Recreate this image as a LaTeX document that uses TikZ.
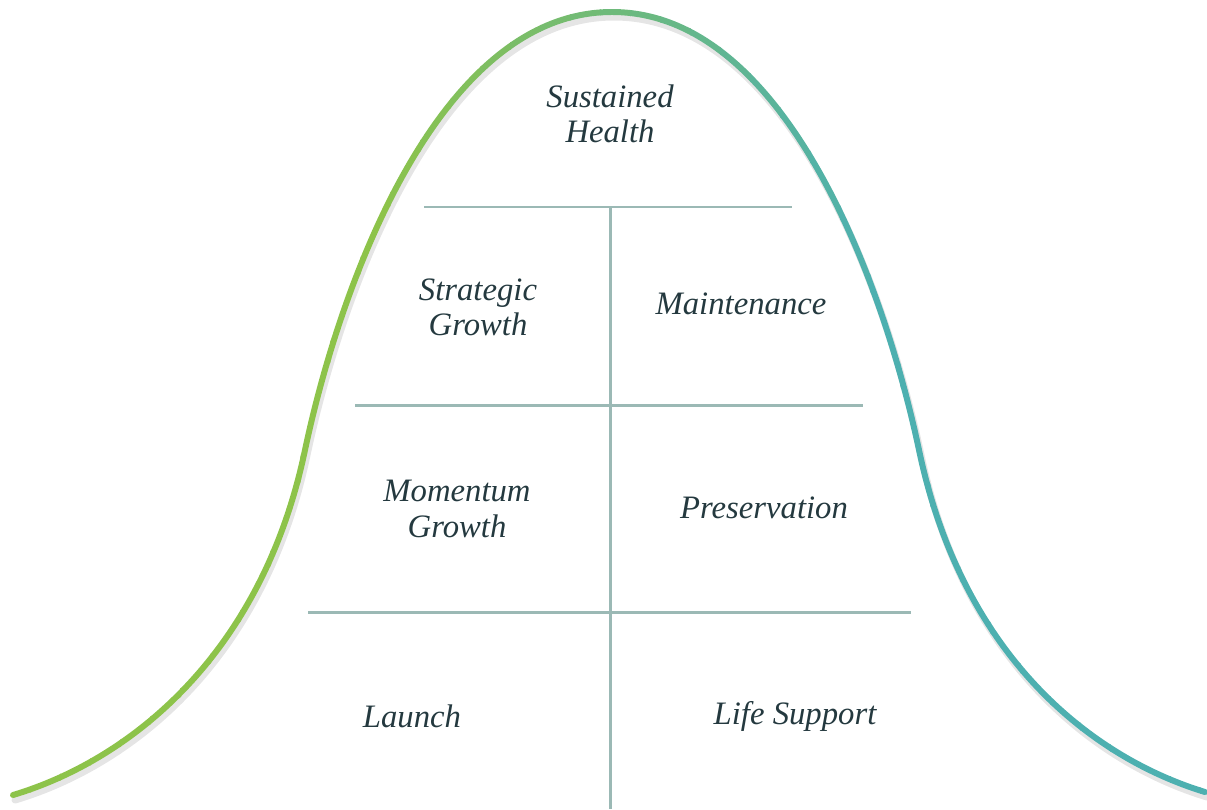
\documentclass[tikz,border=0pt]{standalone}
\usepackage{fontspec}
\setmainfont{Liberation Serif}
\definecolor{leafgreen}{HTML}{8DC34A}
\definecolor{seateal}{HTML}{4DB0B0}
\definecolor{gridline}{HTML}{9BB9B5}
\definecolor{inktext}{HTML}{24393F}
\tikzstyle{phase} = [align=center, text=inktext, font=\fontsize{9.3}{10}\selectfont\itshape, inner sep=0pt]
\tikzstyle{divider} = [draw=gridline, line width=0.85pt]
\tikzstyle{bell} = [insert path={(13,795) .. controls (130,760) and (262,655) .. (305,450) .. controls (341,280) and (440,12) .. (612,12) .. controls (784,12) and (883,280) .. (919,450) .. controls (962,655) and (1090,757) .. (1205,792)}]

\begin{document}
\begin{tikzpicture}[x=0.01cm, y=-0.01cm]
\useasboundingbox (0,0) rectangle (1207,809);

% soft shadow under the curve
\draw[black!10, line width=2pt, line cap=round, shift={(2,5)}, bell];

% bell curve, green into teal
\foreach \i in {0,...,40} {
  \pgfmathsetmacro{\xa}{\i*30}
  \pgfmathsetmacro{\xb}{\xa+31}
  \pgfmathsetmacro{\mixv}{max(0,min(100,(860-\xa)/5))}
  \begin{scope}
    \clip (\xa,-20) rectangle (\xb,830);
    \draw[leafgreen!\mixv!seateal, line width=1.7pt, line cap=round, bell];
  \end{scope}
}

\coordinate (r1w) at (424,207); \coordinate (r1e) at (792,207);
\coordinate (r2w) at (355,405); \coordinate (r2e) at (863,405);
\coordinate (r3w) at (308,612); \coordinate (r3e) at (911,612);
\coordinate (stemtop) at (610,207); \coordinate (stembot) at (610,809);

\draw[divider] (r1w) -- (r1e);
\draw[divider] (r2w) -- (r2e);
\draw[divider] (r3w) -- (r3e);
\draw[divider] (stemtop) -- (stembot);

\node[phase] (health) at (610,114) {Sustained\\Health};
\node[phase] (strategic) at (478,307) {Strategic\\Growth};
\node[phase] (maint) at (741,304) {Maintenance};
\node[phase] (momentum) at (457,509) {Momentum\\Growth};
\node[phase] (preserve) at (764,508) {Preservation};
\node[phase] (launch) at (412,716) {Launch};
\node[phase] (lifesup) at (795,716) {Life Support};
\end{tikzpicture}
\end{document}
